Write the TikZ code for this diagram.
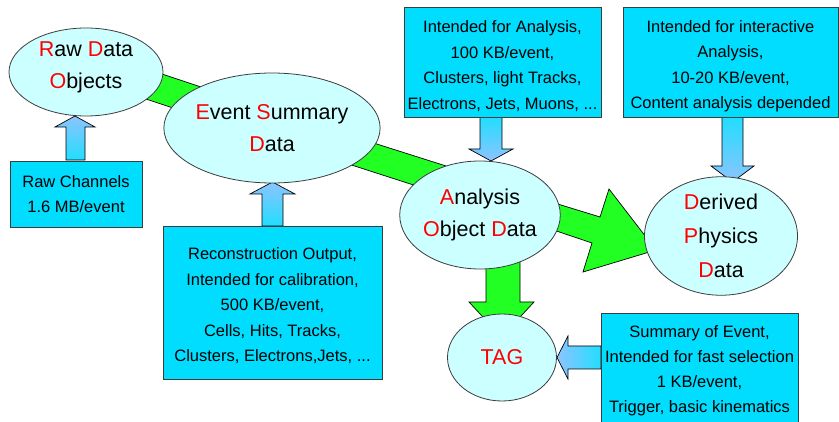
\documentclass[tikz,border=0pt]{standalone}
\usepackage{fontspec}
\setmainfont{Liberation Sans}
\usetikzlibrary{shapes.geometric}
\definecolor{boxc}{RGB}{0,221,255}
\definecolor{ellc}{RGB}{204,255,255}
\definecolor{grn}{RGB}{34,255,34}
\definecolor{lblue}{RGB}{140,196,255}
\definecolor{cblue}{RGB}{34,221,255}
\definecolor{edge}{RGB}{60,60,60}
\tikzset{
  ell/.style={ellipse, draw=edge, line width=0.8pt, fill=ellc, inner sep=0pt, align=center, font=\fontsize{21.5}{32}\selectfont},
  infobox/.style={rectangle, draw=edge, line width=0.8pt, fill=boxc, inner sep=0pt, align=center, font=\fontsize{16.5}{25.5}\selectfont},
  garrow/.style={draw=black, line width=0.7pt, fill=grn, line join=miter},
  barrow/.style={draw=black, line width=0.7pt, line join=miter},
}
\newcommand{\rl}[1]{\textcolor{red}{#1}}
\newcommand{\topstrut}[1]{\rule{0pt}{#1}}
\begin{document}
\begin{tikzpicture}[x=1pt,y=-1pt]
\useasboundingbox (0,0) rectangle (839,422);
\fill[white] (0,0) rectangle (839,422);

% green block arrows
\draw[garrow] (120,60) -- (240,100) -- (230,127) -- (110,87) -- cycle;
\draw[garrow] (320,126) -- (470,173.6) -- (460,200) -- (310,151.6) -- cycle;
\draw[garrow] (520,192.4) -- (600,217) -- (609,189) -- (656,250) -- (583,272) -- (592,243) -- (520,218.7) -- cycle;
\draw[garrow] (486,250) -- (486,302) -- (469,302) -- (501.5,337) -- (534,302) -- (520,302) -- (520,250) -- cycle;

% blue block arrows
\draw[barrow, top color=lblue, bottom color=cblue] (66,160) -- (66,127) -- (55,127) -- (75,116) -- (95,127) -- (85,127) -- (85,160) -- cycle;
\draw[barrow, top color=lblue, bottom color=cblue] (262,226) -- (262,194) -- (250,194) -- (272.5,182) -- (295,194) -- (283,194) -- (283,226) -- cycle;
\draw[barrow, top color=cblue, bottom color=lblue] (480,117) -- (480,149) -- (469,149) -- (491,161) -- (513,149) -- (502,149) -- (502,117) -- cycle;
\draw[barrow, top color=cblue, bottom color=lblue] (722,117) -- (722,166) -- (711,166) -- (732.5,182) -- (754,166) -- (743,166) -- (743,117) -- cycle;
\draw[barrow, left color=lblue, right color=cblue] (601,346) -- (568,346) -- (568,336) -- (557,357.5) -- (568,379) -- (568,369) -- (601,369) -- cycle;

% ellipses
\node[ell, minimum width=154pt, minimum height=88pt, text depth=14pt] (rdo) at (86,72) {\rl{R}aw \rl{D}ata\\ \rl{O}bjects};
\node[ell, minimum width=176pt, minimum height=110pt] (esd) at (272,128) {\rl{E}vent \rl{S}ummary\\ \rl{D}ata};
\node[ell, minimum width=154pt, minimum height=108pt] (aod) at (480,215) {\rl{A}nalysis\\ \rl{O}bject \rl{D}ata};
\node[ell, minimum width=153pt, minimum height=109pt, font=\fontsize{21.5}{34}\selectfont] (dpd) at (721,236) {\rl{D}erived\\ \rl{P}hysics\\ \rl{D}ata};
\node[ell, minimum width=109pt, minimum height=87pt] (tag) at (502,357.5) {\rl{TAG}};

% boxes
\node[infobox, minimum width=132pt, minimum height=66pt] (raw) at (76,194) {Raw Channels\\ 1.6 MB/event};
\node[infobox, minimum width=219pt, minimum height=153pt] (reco) at (272.5,302.5) {\topstrut{19pt}Reconstruction Output,\\ Intended for calibration,\\ 500 KB/event,\\ Cells, Hits, Tracks,\\ Clusters, Electrons,Jets, ...};
\node[infobox, minimum width=197pt, minimum height=110pt] (ana) at (502.5,62) {\topstrut{20pt}Intended for Analysis,\\ 100 KB/event,\\ Clusters, light Tracks,\\ Electrons, Jets, Muons, ...};
\node[infobox, minimum width=215pt, minimum height=110pt] (inter) at (730.5,62) {\topstrut{20pt}Intended for interactive\\ Analysis,\\ 10-20 KB/event,\\ Content analysis depended};
\node[infobox, minimum width=197pt, minimum height=116pt, font=\fontsize{16.5}{25}\selectfont] (summ) at (699.5,371) {Summary of Event,\\ Intended for fast selection\\ 1 KB/event,\\ Trigger, basic kinematics};
\end{tikzpicture}
\end{document}
